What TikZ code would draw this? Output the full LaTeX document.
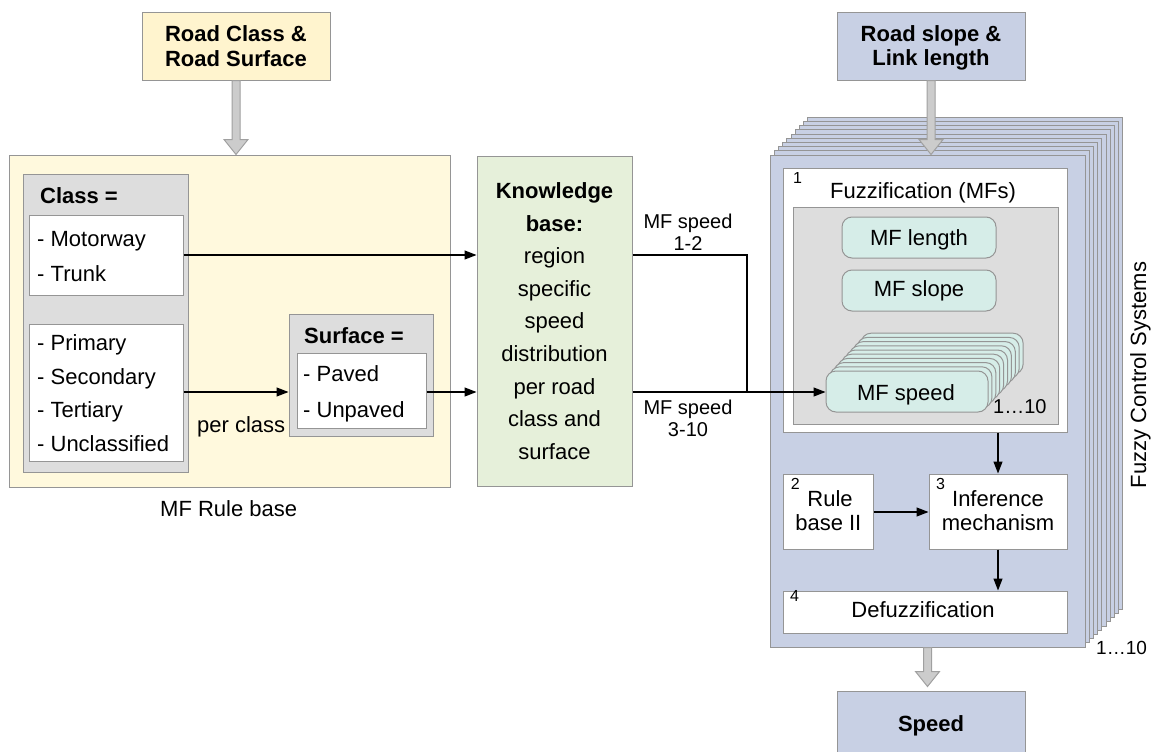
\documentclass[tikz,border=0pt]{standalone}
\usepackage{fontspec}
\setmainfont{Liberation Sans}
\usetikzlibrary{arrows.meta,calc,fit}
\definecolor{bd}{HTML}{959595}
\definecolor{ytop}{HTML}{FFF4CE}
\definecolor{yrule}{HTML}{FFF9DD}
\definecolor{gbox}{HTML}{DDDDDD}
\definecolor{kbgreen}{HTML}{E6F0DA}
\definecolor{fblue}{HTML}{C8D0E4}
\definecolor{mfteal}{HTML}{D6EDE8}
\definecolor{fatfill}{HTML}{CCCCCC}
\definecolor{fatbd}{HTML}{A0A0A0}
\newcommand\fatarrow[2]{\path[fat] let \p1=(#1),\p2=(#2) in (\x1-4pt,\y1) -- (\x1+4pt,\y1) -- (\x1+4pt,\y2+15pt) -- (\x1+12pt,\y2+15pt) -- (\x1,\y2) -- (\x1-12pt,\y2+15pt) -- (\x1-4pt,\y2+15pt) -- cycle;}
\begin{document}
\begin{tikzpicture}[x=1pt,y=-1pt,
  box/.style={draw=bd,line width=1pt,inner sep=0pt},
  arr/.style={draw=black,line width=1.2pt,-{Triangle[length=12pt,width=9pt]}},
  ln/.style={draw=black,line width=1.2pt},
  fat/.style={draw=fatbd,fill=fatfill,line width=1pt},
  txt/.style={font=\fontsize{22}{26}\selectfont,inner sep=0pt},
  btxt/.style={font=\fontsize{22}{26}\selectfont\bfseries,inner sep=0pt},
  stxt/.style={font=\fontsize{20}{24}\selectfont,inner sep=0pt},
  supnum/.style={font=\fontsize{16}{18}\selectfont,inner sep=0pt}]
\useasboundingbox (0,0) rectangle (1151,752);

% ---------- left: inputs and rule base ----------
\node[box,fill=ytop,fit={(142,13) (330,80)}] (rc) {};
\node[btxt,anchor=base] (rct1) at (236,41.7) {Road Class \&};
\node[btxt,anchor=base] (rct2) at (236,66.7) {Road Surface};

\node[box,fill=yrule,fit={(9,155) (450,487)}] (rb) {};
\fatarrow{rc.south}{rb.north}
\node[txt,anchor=base west] (rblbl) at (160,516) {MF Rule base};

\node[box,fill=gbox,fit={(23,174) (188,472)}] (cls) {};
\node[btxt,anchor=base west] (clst) at (40,203) {Class =};
\node[box,fill=white,fit={(29,215) (183,295)}] (cls1) {};
\node[txt,anchor=base west] (c11) at (37,246) {- Motorway};
\node[txt,anchor=base west] (c12) at (37,281) {- Trunk};
\node[box,fill=white,fit={(29,324) (183,461)}] (cls2) {};
\node[txt,anchor=base west] (c21) at (37,350.7) {- Primary};
\node[txt,anchor=base west] (c22) at (37,384.3) {- Secondary};
\node[txt,anchor=base west] (c23) at (37,417.9) {- Tertiary};
\node[txt,anchor=base west] (c24) at (37,451.5) {- Unclassified};

\node[box,fill=gbox,fit={(289,314) (433,436)}] (surf) {};
\node[btxt,anchor=base west] (surft) at (304,343.3) {Surface =};
\node[box,fill=white,fit={(297,353) (426,428)}] (surfw) {};
\node[txt,anchor=base west] (s1) at (303,381.7) {- Paved};
\node[txt,anchor=base west] (s2) at (303,417) {- Unpaved};
\node[txt,anchor=base west] (perc) at (197,432.7) {per class};

% ---------- knowledge base ----------
\node[box,fill=kbgreen,fit={(477,156) (632,486)}] (kb) {};
\node[btxt,anchor=base] (kb1) at (554.5,198.3) {Knowledge};
\node[btxt,anchor=base] (kb2) at (554.5,231) {base:};
\node[txt,anchor=base] (kb3) at (554.5,263.6) {region};
\node[txt,anchor=base] (kb4) at (554.5,296.2) {specific};
\node[txt,anchor=base] (kb5) at (554.5,328.8) {speed};
\node[txt,anchor=base] (kb6) at (554.5,361.4) {distribution};
\node[txt,anchor=base] (kb7) at (554.5,394) {per road};
\node[txt,anchor=base] (kb8) at (554.5,426.6) {class and};
\node[txt,anchor=base] (kb9) at (554.5,459.2) {surface};

\draw[arr] (cls1.east) -- (kb.west |- cls1.east);
\draw[arr] (cls2.east |- 0,392) -- (surf.west |- 0,392);
\draw[arr] (surfw.east |- 0,392) -- (kb.west |- 0,392);

\node[stxt,anchor=base] (l1a) at (688,228.3) {MF speed};
\node[stxt,anchor=base] (l1b) at (688,250) {1-2};
\node[stxt,anchor=base] (l2a) at (688,414) {MF speed};
\node[stxt,anchor=base] (l2b) at (688,436.7) {3-10};

% ---------- fuzzy control system stack ----------
\foreach \i in {9,...,1}{
  \path[box,fill=fblue] (770+4.2*\i,155-4.2*\i) rectangle (1085+4.2*\i,647-4.2*\i);
}
\node[box,fill=fblue,fit={(770,155) (1085,647)}] (fcs) {};
\node[stxt,font=\fontsize{19}{22}\selectfont,anchor=base west] (stk) at (1096,654.3) {1…10};
\node[txt,rotate=90,anchor=base] (fcsl) at (1146,375) {Fuzzy Control Systems};

\node[box,fill=fblue,fit={(837,13) (1025,80)}] (rs) {};
\node[btxt,anchor=base] (rst1) at (931,42) {Road slope \&};
\node[btxt,anchor=base] (rst2) at (931,65.7) {Link length};
\fatarrow{rs.south}{fcs.north}

\node[box,fill=white,fit={(783,168) (1067,432)}] (fuzz) {};
\node[supnum,anchor=base west] (n1) at (793,183) {1};
\node[txt,anchor=base] (fuzzt) at (923,198.3) {Fuzzification (MFs)};
\node[box,fill=gbox,fit={(793,207) (1058,424)}] (mfs) {};
\node[box,fill=mfteal,rounded corners=10pt,fit={(842,217) (996,258)}] (mfl) {};
\node[txt,anchor=base] (mflt) at (mfl.center |- 0,245) {MF length};
\node[box,fill=mfteal,rounded corners=10pt,fit={(842,270) (996,311)}] (mfsl) {};
\node[txt,anchor=base] (mfslt) at (mfsl.center |- 0,296.7) {MF slope};
\foreach \i in {9,...,1}{
  \path[box,fill=mfteal,rounded corners=10pt] (826+3.9*\i,371-4.2*\i) rectangle (988+3.9*\i,412-4.2*\i);
}
\node[box,fill=mfteal,rounded corners=10pt,fit={(826,371) (988,412)}] (mfsp) {};
\node[txt,anchor=base] (mfspt) at (906,400) {MF speed};
\node[stxt,anchor=base west] (mfn) at (993,413.3) {1…10};

\draw[ln] (kb.east |- 0,255) -| (747,392);
\draw[arr] (kb.east |- 0,392) -- (mfsp.west |- 0,392);

\node[box,fill=white,fit={(783,474) (873,549)}] (rule) {};
\node[supnum,anchor=base west] (n2) at (790.7,489) {2};
\node[txt,anchor=base] (rulet1) at (830,506.7) {Rule};
\node[txt,anchor=base] (rulet2) at (828.3,530) {base II};
\node[box,fill=white,fit={(929,474) (1067,549)}] (inf) {};
\node[supnum,anchor=base west] (n3) at (936,489) {3};
\node[txt,anchor=base] (inft1) at (998,506.7) {Inference};
\node[txt,anchor=base] (inft2) at (998,530) {mechanism};
\node[box,fill=white,fit={(783,591) (1067,633)}] (defz) {};
\node[supnum,anchor=base west] (n4) at (790,601) {4};
\node[txt,anchor=base] (defzt) at (923,617.3) {Defuzzification};

\draw[arr] (fuzz.south -| 998,0) -- (inf.north -| 998,0);
\draw[arr] (rule.east |- 0,512) -- (inf.west |- 0,512);
\draw[arr] (inf.south -| 998,0) -- (defz.north -| 998,0);

\node[box,fill=fblue,fit={(837,691) (1025,754)}] (spd) {};
\node[btxt,anchor=base] (spdt) at (931,731.7) {Speed};
\fatarrow{fcs.south}{$(spd.north)+(0,-4)$}
\end{tikzpicture}
\end{document}
